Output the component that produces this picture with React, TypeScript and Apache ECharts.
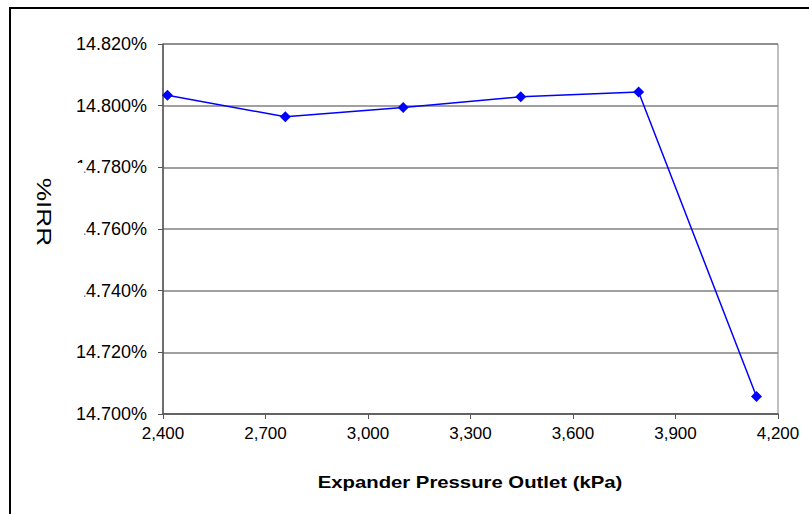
import React, { useEffect, useRef } from "react";
import * as echarts from "echarts";

const pressureKPa = [2413, 2758, 3103, 3447, 3792, 4137];
const irrPercent = [14.8034, 14.7964, 14.7994, 14.8029, 14.8044, 14.7057];
const xAxisTitle = "Expander Pressure Outlet (kPa)";
const yAxisTitle = "%IRR";

const FONT = "'Liberation Sans', Arial, sans-serif";

export default function App() {
  const ref = useRef<HTMLDivElement>(null);
  useEffect(() => {
    if (!ref.current) return;
    const chart = echarts.init(ref.current, undefined, { renderer: "svg" });
    chart.setOption({
      animation: false,
      backgroundColor: "#ffffff",
      grid: {
        left: 163,
        top: 44,
        right: 31,
        bottom: 100,
        show: true,
        borderColor: "#808080",
        borderWidth: 1,
        backgroundColor: "transparent",
      },
      xAxis: {
        type: "value",
        min: 2400,
        max: 4200,
        interval: 300,
        axisLine: { show: true, lineStyle: { color: "#555", width: 1.5 } },
        axisTick: { show: true, length: 5, lineStyle: { color: "#555" } },
        axisLabel: {
          margin: 11,
          fontFamily: FONT,
          fontSize: 17,
          color: "#000",
          formatter: (v: number) => v.toLocaleString("en-US"),
        },
        splitLine: { show: false },
      },
      yAxis: {
        type: "value",
        min: 14.7,
        max: 14.82,
        interval: 0.02,
        axisLine: { show: true, lineStyle: { color: "#555", width: 1.5 } },
        axisTick: { show: true, length: 5, lineStyle: { color: "#555" } },
        axisLabel: {
          margin: 16,
          fontFamily: FONT,
          fontSize: 18,
          color: "#000",
          formatter: (v: number) => v.toFixed(3) + "%",
        },
        splitLine: { show: true, lineStyle: { color: "#808080", width: 1.5 } },
      },
      series: [
        {
          type: "line",
          data: pressureKPa.map((x, i) => [x, irrPercent[i]]),
          symbol: "diamond",
          symbolSize: 11,
          itemStyle: { color: "#0000ff" },
          lineStyle: { color: "#0000ff", width: 1.5 },
        },
      ],
      graphic: [
        {
          type: "rect",
          zlevel: 1,
          z: 100,
          shape: { x: 28, y: 163, width: 56.5, height: 152 },
          style: { fill: "#ffffff" },
        },
        {
          type: "text",
          zlevel: 1,
          z: 101,
          x: 45,
          y: 212,
          rotation: -Math.PI / 2,
          scaleX: 1.25,
          style: {
            text: yAxisTitle,
            fontFamily: FONT,
            fontSize: 21,
            fill: "#000",
            align: "center",
            verticalAlign: "middle",
          },
        },
        {
          type: "text",
          zlevel: 1,
          z: 101,
          x: 470,
          y: 482,
          scaleX: 1.27,
          style: {
            text: xAxisTitle,
            fontFamily: FONT,
            fontSize: 16,
            fontWeight: "bold",
            fill: "#000",
            align: "center",
            verticalAlign: "middle",
          },
        },
        {
          type: "rect",
          zlevel: 1,
          z: 102,
          shape: { x: 10, y: 8, width: 830, height: 540 },
          style: { fill: "none", stroke: "#000", lineWidth: 2 },
        },
      ],
    });
    return () => chart.dispose();
  }, []);
  return (
    <div
      ref={ref}
      style={{ position: "fixed", left: 0, top: 0, width: 809, height: 514 }}
    />
  );
}
